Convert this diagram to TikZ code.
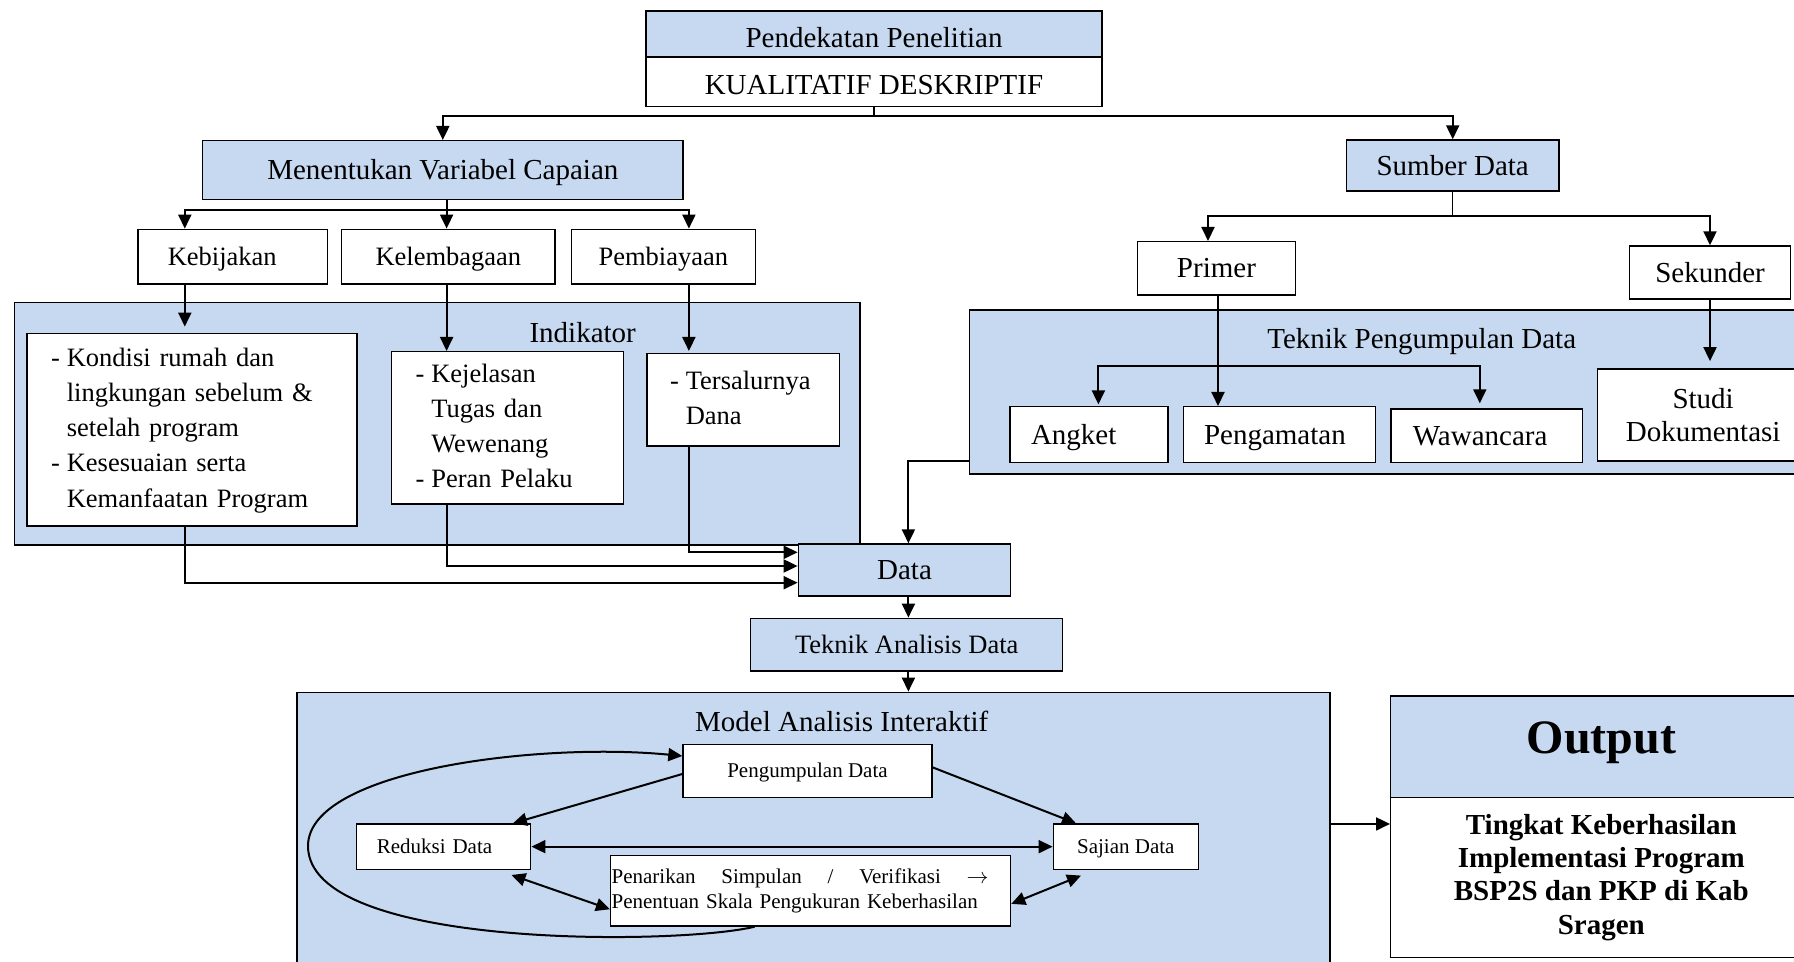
\documentclass[tikz,border=0pt]{standalone}
\usepackage{fontspec}
\setmainfont{Liberation Serif}
\usetikzlibrary{arrows.meta,calc}
\definecolor{paleblue}{HTML}{C6D9F1}
\newcommand\szA{\fontsize{14.5pt}{16.7pt}\selectfont}
\newcommand\szB{\fontsize{13.25pt}{17.6pt}\selectfont}
\newcommand\szC{\fontsize{10.5pt}{12.5pt}\selectfont}
\newcommand\szO{\fontsize{24pt}{28pt}\selectfont}
\setlength{\parindent}{0pt}

\begin{document}
\begin{tikzpicture}[x=0.5pt,y=-0.5pt,
  bx/.style={draw=black,line width=0.7pt,fill=white,inner sep=0pt},
  bl/.style={bx,fill=paleblue},
  sz/.style 2 args={minimum width=#1*0.5pt,minimum height=#2*0.5pt},
  capA/.style={font=\szA,text height=9.6pt,text depth=0pt},
  capB/.style={font=\szB,text height=8.8pt,text depth=0pt},
  capC/.style={font=\szC,text height=7pt,text depth=0pt},
  lbl/.style={capA,inner sep=0pt},
  lpad/.style 2 args={align=left,inner xsep=#1,text width=#2},
  conn/.style={line width=1pt},
  stem/.style={line width=0.6pt},
  arr/.style={conn,-{Triangle[length=7pt,width=6.5pt]}},
  arr2/.style={conn,{Triangle[length=7pt,width=6.5pt]}-{Triangle[length=7pt,width=6.5pt]}},
]
\useasboundingbox (0,0) rectangle (1794,962);
\clip (0,0) rectangle (1794,962);

% ---- group panels ----
\node[bl,sz={845.6}{242.3}] (ind) at (437.2,423.85) {};
\node[lbl] (indL) at (582.7,332.7) {Indikator};
\node[bl,sz={860.4}{164}] (tpd) at (1399.8,392) {};
\node[lbl] (tpdL) at (1421.7,339.3) {Teknik Pengumpulan Data};
\node[bl,sz={1033.2}{307.7}] (model) at (813.4,846.15) {};
\node[lbl] (modelL) at (841.7,721.7) {Model Analisis Interaktif};

% ---- approach ----
\node[bl,sz={456}{46},capA,text height=13.6pt] (pendTop) at (874,34) {Pendekatan Penelitian};
\node[bx,sz={456}{49.7},capA,text height=12.3pt] (pendBot) at (874,81.85) {KUALITATIF DESKRIPTIF};

% ---- variables ----
\node[bl,sz={480.4}{58.6},capA] (menentukan) at (442.8,170) {Menentukan Variabel Capaian};
\node[bx,sz={189.4}{54.7},capB,lpad={15pt}{64.7pt}] (kebijakan) at (232.5,256.65) {Kebijakan};
\node[bx,sz={213.5}{54.7},capB] (kelembagaan) at (448.35,256.65) {Kelembagaan};
\node[bx,sz={184.3}{54.7},capB] (pembiayaan) at (663.35,256.65) {Pembiayaan};

\node[bx,sz={330}{192.7},font=\szB,lpad={12pt}{141pt}] (ind1) at (192,429.65)
  {\begin{tabular}{@{}l@{\hspace{3.5pt}}l@{}}-&Kondisi rumah dan\\&lingkungan sebelum \&\\&setelah program\\-&Kesesuaian serta\\&Kemanfaatan Program\end{tabular}};
\node[bx,sz={231.9}{152.3},font=\szB,lpad={12pt}{91.95pt}] (ind2) at (507.45,427.85)
  {\begin{tabular}{@{}l@{\hspace{3.5pt}}l@{}}-&Kejelasan\\&Tugas dan\\&Wewenang\\-&Peran Pelaku\end{tabular}};
\node[bx,sz={192.3}{92.7},font=\szB,lpad={11.5pt}{73.15pt}] (ind3) at (743.15,399.65)
  {\begin{tabular}{@{}l@{\hspace{3.5pt}}l@{}}-&Tersalurnya\\&Dana\end{tabular}};

% ---- data sources ----
\node[bl,sz={212.6}{51},capA] (sumber) at (1452.7,165.5) {Sumber Data};
\node[bx,sz={158.5}{53.3},capA] (primer) at (1216.45,268.35) {Primer};
\node[bx,sz={161.4}{53},capA] (sekunder) at (1710,272.5) {Sekunder};
\node[bx,sz={158}{55.6},capA,lpad={10.5pt}{58pt}] (angket) at (1089,434.5) {Angket};
\node[bx,sz={192.1}{55.6},capA,lpad={10.3pt}{75.45pt}] (pengamatan) at (1279.45,434.5) {Pengamatan};
\node[bx,sz={191.5}{53.3},capA,lpad={11pt}{73.75pt}] (wawancara) at (1486.65,435.65) {Wawancara};
\node[bx,sz={211.7}{92},font=\szA,align=center] (studi) at (1703.15,415) {Studi\\Dokumentasi};

% ---- analysis ----
\node[bl,sz={212.4}{52},capA] (data) at (904.5,570) {Data};
\node[bl,sz={312}{52.7},capB] (tad) at (906.7,644.65) {Teknik Analisis Data};

\node[bx,sz={249}{53},capC] (pengumpulan) at (807.5,770.8) {Pengumpulan Data};
\node[bx,sz={174}{45.3},capC,lpad={10.25pt}{66.75pt}] (reduksi) at (443.5,846.65) {Reduksi Data};
\node[bx,sz={145}{45.3},capC] (sajian) at (1125.8,846.65) {Sajian Data};
\node[bx,sz={400}{70.3},font=\szC,lpad={0.5pt}{199pt}] (penarikan) at (810.6,890.85)
  {\makebox[188.5pt][s]{Penarikan\hfill Simpulan\hfill /\hfill Verifikasi\hfill $\rightarrow$}\\Penentuan Skala Pengukuran Keberhasilan};

% ---- output ----
\node[bl,sz={421.3}{101.3},font=\szO\bfseries,text height=16.2pt,text depth=9.6pt] (outtop) at (1601.35,746.65) {Output};
\node[bx,sz={421.3}{160},font=\szA\bfseries,align=center] (outbody) at (1601.35,877.3)
  {Tingkat Keberhasilan\\Implementasi Program\\BSP2S dan PKP di Kab\\Sragen};

% ---- guide columns and rows for the connectors ----
\coordinate (colA) at (184.8,0);
\coordinate (colB) at (446.6,0);
\coordinate (colC) at (688.9,0);
\coordinate (colD) at (908.4,0);
\coordinate (colP) at (1208,0);
\coordinate (colQ) at (1218,0);
\coordinate (colAng) at (1098.4,0);
\coordinate (colWaw) at (1479.8,0);
\coordinate (rowTop) at (0,116);
\coordinate (rowMen) at (0,210);
\coordinate (rowSum) at (0,216);
\coordinate (rowTpd) at (0,366);
\coordinate (loopL) at (308,846);

% ---- connectors: top level ----
\draw[stem] (pendBot.south) -- (pendBot.south |- rowTop);
\draw[arr] (pendBot.south |- rowTop) -| (menentukan.north);
\draw[arr] (pendBot.south |- rowTop) -| (sumber.north);

% ---- connectors: variables to indicators ----
\draw[arr] (menentukan.south -| colB) -- (kelembagaan.north -| colB);
\draw[arr] (colB |- rowMen) -| (kebijakan.north -| colA);
\draw[arr] (colB |- rowMen) -| (pembiayaan.north -| colC);
\draw[arr,shorten >=3pt] (kebijakan.south -| colA) -- (ind1.north -| colA);
\draw[arr] (kelembagaan.south -| colB) -- (ind2.north -| colB);
\draw[arr,shorten >=0.8pt] (pembiayaan.south -| colC) -- (ind3.north -| colC);

% ---- connectors: indicators to data ----
\draw[arr] (ind3.south -| colC) |- ([yshift=8.85pt]data.west);
\draw[arr] (ind2.south -| colB) |- ([yshift=2pt]data.west);
\draw[arr] (ind1.south -| colA) |- ([yshift=-6.35pt]data.west);

% ---- connectors: data sources ----
\draw[stem] (sumber.south) -- (sumber.south |- rowSum);
\draw[arr] (sumber.south |- rowSum) -| (primer.north -| colP);
\draw[arr] (sumber.south |- rowSum) -| (sekunder.north);
\draw[arr] (primer.south -| colQ) -- (pengamatan.north -| colQ);
\draw[arr,shorten >=0.8pt] (colQ |- rowTpd) -| (angket.north -| colAng);
\draw[arr,shorten >=2.5pt] (colQ |- rowTpd) -| (wawancara.north -| colWaw);
\draw[arr,shorten >=3.6pt] (sekunder.south) -- (studi.north -| sekunder.south);
\draw[arr] ([yshift=-34.5pt]tpd.west) -| (data.north -| colD);

% ---- connectors: analysis chain ----
\draw[arr] (data.south -| colD) -- (tad.north -| colD);
\draw[arr] (tad.south -| colD) -- (model.north -| colD);

% ---- interactive model ----
\draw[arr] ([yshift=-1.6pt]pengumpulan.west) -- ([xshift=-9.25pt]reduksi.north east);
\draw[arr] ([yshift=1.7pt]pengumpulan.east) -- ([xshift=11.7pt]sajian.north west);
\draw[arr2] (reduksi.east) -- (sajian.west);
\draw[arr2] ([xshift=-10pt,yshift=-2.5pt]reduksi.south east) -- ([yshift=-9.2pt]penarikan.west);
\draw[arr2] ([xshift=14.2pt,yshift=-2.8pt]sajian.south west) -- ([yshift=-6.5pt]penarikan.east);
\draw[arr] ([xshift=-28pt]penarikan.south) .. controls (680,945) and (308,950) .. (loopL)
  .. controls (308,770) and (540,742) .. ([yshift=7.4pt]pengumpulan.west);

% ---- result ----
\draw[arr] ([yshift=11.1pt]model.east) coordinate (mo) -- (mo -| outbody.west);
\end{tikzpicture}
\end{document}
